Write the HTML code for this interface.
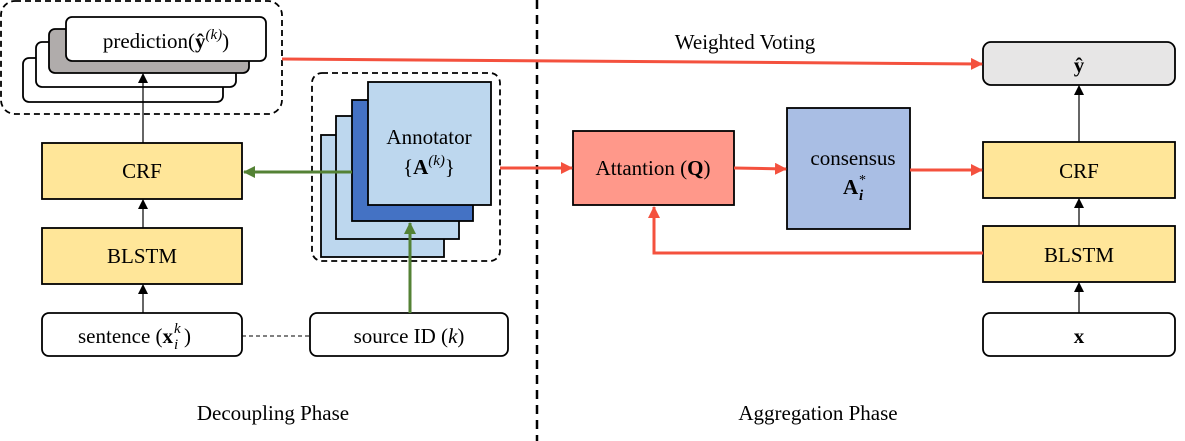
<!DOCTYPE html>
<html><head><meta charset="utf-8"><style>
html,body{margin:0;padding:0;background:#fff;}
svg{display:block;font-family:"Liberation Serif",serif;}
</style></head><body>
<svg width="1185" height="441" viewBox="0 0 1185 441" xmlns="http://www.w3.org/2000/svg">
<defs>
<marker id="ab" markerWidth="10" markerHeight="10" refX="9" refY="5" orient="auto" markerUnits="userSpaceOnUse"><path d="M0,0 L10,5 L0,10 z" fill="#000"/></marker>
<marker id="ar" markerWidth="12" markerHeight="12" refX="11" refY="6" orient="auto" markerUnits="userSpaceOnUse"><path d="M0,0 L12,6 L0,12 z" fill="#f4513e"/></marker>
<marker id="ag" markerWidth="12" markerHeight="12" refX="11" refY="6" orient="auto" markerUnits="userSpaceOnUse"><path d="M0,0 L12,6 L0,12 z" fill="#548235"/></marker>
</defs>
<g fill="none" stroke="#000" stroke-width="1.8" stroke-dasharray="6,4">
<rect x="1" y="1" width="281" height="113" rx="14"/>
<rect x="312" y="73" width="188" height="188" rx="10"/>
</g>
<line x1="537" y1="0" x2="537" y2="441" stroke="#000" stroke-width="2.5" stroke-dasharray="9,6"/>
<g stroke="#000" stroke-width="1.8">
<rect x="23" y="58" width="200" height="44" rx="6" fill="#fff"/>
<rect x="36" y="42" width="200" height="45" rx="6" fill="#fff"/>
<rect x="49" y="29" width="200" height="44" rx="6" fill="#b0acab"/>
<rect x="66" y="17" width="200" height="44" rx="6" fill="#fff"/>
<rect x="42" y="143" width="200" height="56" fill="#ffe699"/>
<rect x="42" y="228" width="200" height="56" fill="#ffe699"/>
<rect x="42" y="313" width="200" height="43" rx="7" fill="#fff"/>
<rect x="310" y="313" width="198" height="43" rx="7" fill="#fff"/>
<rect x="321" y="135" width="123" height="122" fill="#bdd7ee"/>
<rect x="336" y="116" width="123" height="123" fill="#bdd7ee"/>
<rect x="352" y="100" width="121" height="121" fill="#4472c4"/>
<rect x="368" y="82" width="123" height="123" fill="#bdd7ee"/>
<rect x="573" y="131" width="161" height="74" fill="#ff988a"/>
<rect x="787" y="108" width="123" height="121" fill="#a9bee4"/>
<rect x="983" y="42" width="192" height="43" rx="8" fill="#e7e6e6"/>
<rect x="983" y="142" width="192" height="56" fill="#ffe699"/>
<rect x="983" y="226" width="192" height="56" fill="#ffe699"/>
<rect x="983" y="313" width="192" height="43" rx="7" fill="#fff"/>
</g>
<g stroke="#000" stroke-width="1.2" marker-end="url(#ab)">
<line x1="143" y1="143" x2="143" y2="74"/>
<line x1="143" y1="228" x2="143" y2="200"/>
<line x1="143" y1="313" x2="143" y2="285"/>
<line x1="1079" y1="142" x2="1079" y2="86"/>
<line x1="1079" y1="226" x2="1079" y2="199"/>
<line x1="1079" y1="313" x2="1079" y2="283"/>
</g>
<line x1="242" y1="336" x2="310" y2="336" stroke="#000" stroke-width="1" stroke-dasharray="4,3"/>
<g stroke="#548235" stroke-width="3" fill="none" marker-end="url(#ag)">
<line x1="352" y1="172" x2="244" y2="172"/>
<line x1="410" y1="313" x2="410" y2="223"/>
</g>
<g stroke="#f4513e" stroke-width="3" fill="none" marker-end="url(#ar)">
<line x1="282" y1="59" x2="982" y2="64"/>
<line x1="500" y1="168" x2="572" y2="168"/>
<line x1="734" y1="168" x2="786" y2="169"/>
<line x1="910" y1="170" x2="982" y2="170"/>
<polyline points="983,253 654,253 654,207"/>
</g>
<g font-size="21" fill="#000" text-anchor="middle">
<text x="166" y="48">prediction(<tspan font-weight="bold">ŷ</tspan><tspan font-size="15" dy="-9" font-style="italic">(k)</tspan><tspan dy="9">)</tspan></text>
<text x="142" y="178">CRF</text>
<text x="142" y="263">BLSTM</text>
<text x="409" y="343">source ID (<tspan font-style="italic">k</tspan>)</text>
<text x="429" y="144">Annotator</text>
<text x="429" y="174">{<tspan font-weight="bold">A</tspan><tspan font-size="15" dy="-9" font-style="italic">(k)</tspan><tspan dy="9">}</tspan></text>
<text x="653" y="175">Attantion (<tspan font-weight="bold">Q</tspan>)</text>
<text x="853" y="165">consensus</text>
<text x="1079" y="72" font-weight="bold">ŷ</text>
<text x="1079" y="178">CRF</text>
<text x="1079" y="262">BLSTM</text>
<text x="1079" y="343" font-weight="bold">x</text>
<text x="745" y="49">Weighted Voting</text>
<text x="273" y="420">Decoupling Phase</text>
<text x="818" y="420">Aggregation Phase</text>
</g>
<g font-size="21" fill="#000">
<text x="78" y="343">sentence (<tspan font-weight="bold">x</tspan></text>
<text x="174" y="333" font-size="15" font-style="italic">k</text>
<text x="174" y="349" font-size="15" font-style="italic">i</text>
<text x="184" y="343">)</text>
<text x="843" y="194" font-weight="bold">A</text>
<text x="859" y="184" font-size="14">*</text>
<text x="859" y="200" font-size="15" font-style="italic" font-weight="bold">i</text>
</g>
</svg>
</body></html>
